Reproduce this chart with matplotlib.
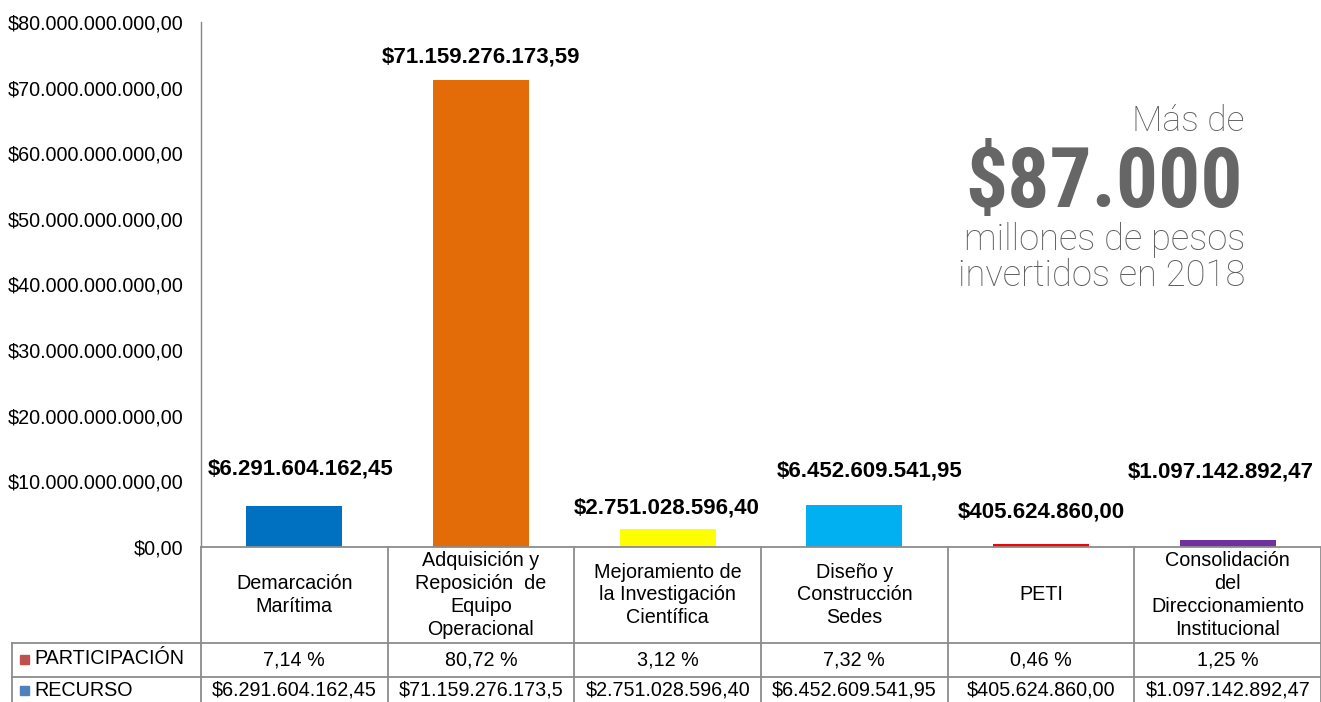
import matplotlib
matplotlib.use("Agg")
import matplotlib.pyplot as plt
from matplotlib.ticker import FuncFormatter, MultipleLocator
from matplotlib.patches import Rectangle
from matplotlib.transforms import blended_transform_factory

# ---------------- data ----------------
categories = ["Demarcación\nMarítima",
              "Adquisición y\nReposición  de\nEquipo\nOperacional",
              "Mejoramiento de\nla Investigación\nCientífica",
              "Diseño y\nConstrucción\nSedes",
              "PETI",
              "Consolidación\ndel\nDireccionamiento\nInstitucional"]
recurso = [6291604162.45, 71159276173.59, 2751028596.40,
           6452609541.95, 405624860.00, 1097142892.47]
participacion = [7.14, 80.72, 3.12, 7.32, 0.46, 1.25]
recurso_row = ["$6.291.604.162,45", "$71.159.276.173,5", "$2.751.028.596,40",
               "$6.452.609.541,95", "$405.624.860,00", "$1.097.142.892,47"]
row_names = ["PARTICIPACIÓN", "RECURSO"]
bar_colors = ["#0070C0", "#E36C09", "#FFFF00", "#00B0F0", "#FF0000", "#7030A0"]
legend_colors = ["#C0504D", "#4F81BD"]

# label placement (baseline pixels above bar top, horizontal shift in px)
label_dy_px = [31, 18, 15, 28, 27, 62]
label_dx_px = [6, 0, -1, 15, 0, -7]

FONT = "Liberation Sans"
plt.rcParams["font.family"] = [FONT, "DejaVu Sans"]
FS = 14.2


def fmt_money(v):
    s = f"{v:,.2f}"
    s = s.replace(",", "X").replace(".", ",").replace("X", ".")
    return "$" + s


W, H = 1321, 702
fig = plt.figure(figsize=(W / 100, H / 100), dpi=100)

# main axes (pixel layout)
x0, x1, ytop, ybot = 201, 1321, 22, 547
ax = fig.add_axes([x0 / W, (H - ybot) / H, (x1 - x0) / W, (ybot - ytop) / H])
n = len(categories)
ax.set_xlim(-0.5, n - 0.5)
ax.set_ylim(0, 80e9)
ax.bar(range(n), recurso, width=0.515, color=bar_colors, zorder=3)
ax.yaxis.set_major_locator(MultipleLocator(10e9))
ax.yaxis.set_major_formatter(FuncFormatter(lambda v, _: fmt_money(v)))
ax.tick_params(axis="y", length=0, pad=12.5, labelsize=FS, labelcolor="black")
ax.set_xticks([])
for s in ["top", "right", "bottom"]:
    ax.spines[s].set_visible(False)
ax.spines["left"].set_color("#868686")
ax.spines["left"].set_linewidth(1.0)
ax.patch.set_visible(False)

for i, v in enumerate(recurso):
    ax.annotate(fmt_money(v), xy=(i, v),
                xytext=(label_dx_px[i] * 0.72, label_dy_px[i] * 0.72),
                textcoords="offset points", ha="center", va="baseline",
                fontsize=16, fontweight="bold", color="black", zorder=5)

# overlay axes in pixel coordinates for table and text block
tab = fig.add_axes([0, 0, 1, 1])
tab.set_xlim(0, W)
tab.set_ylim(H, 0)
tab.axis("off")
tab.patch.set_visible(False)
bt = blended_transform_factory(ax.transData, tab.transData)

lc = "#8c8c8c"
lw = 1.3
# horizontal lines
tab.plot([x0, x1], [547, 547], color=lc, lw=lw, clip_on=False)
for yy in (643, 677):
    tab.plot([12, x1], [yy, yy], color=lc, lw=lw, clip_on=False)
# vertical lines
for k in range(n + 1):
    tab.plot([k - 0.5, k - 0.5], [547, 710], color=lc, lw=lw,
             transform=bt, clip_on=False)
tab.plot([12, 12], [643, 710], color=lc, lw=lw, clip_on=False)

# header cells
for i, c in enumerate(categories):
    tab.text(i, 595, c, transform=bt, ha="center", va="center",
             fontsize=FS, linespacing=1.25, color="black")
# participation row
for i, p in enumerate(participacion):
    tab.text(i, 660, f"{p:.2f}".replace(".", ",") + " %", transform=bt,
             ha="center", va="center", fontsize=FS, color="black")
# recurso row
for i, r in enumerate(recurso_row):
    tab.text(i, 690, r, transform=bt, ha="center", va="center",
             fontsize=FS, color="black")
# row headers with legend keys
for j, (name, col, yc) in enumerate(zip(row_names, legend_colors, (659, 690))):
    tab.add_patch(Rectangle((20, yc - 4.5), 9, 9, color=col, clip_on=False))
    tab.text(34, yc, name, ha="left", va="center", fontsize=FS, color="black")

# big text block
gray = "#5e5e5e"
light = dict(family=["Roboto", FONT, "DejaVu Sans"], fontweight="light", color=gray)
tab.text(1245, 131, "Más de", ha="right", va="baseline", fontsize=25.5, **light)
tab.text(1243, 207, "$87.000", ha="right", va="baseline", fontsize=60,
         fontweight="bold", color="#666666",
         family=["Roboto Condensed", "Liberation Sans Narrow", FONT, "DejaVu Sans"])
tab.text(1245, 250, "millones de pesos", ha="right", va="baseline",
         fontsize=26.2, **light)
tab.text(1245, 286, "invertidos en 2018", ha="right", va="baseline",
         fontsize=26.2, **light)

fig.savefig("out.png", dpi=100)
